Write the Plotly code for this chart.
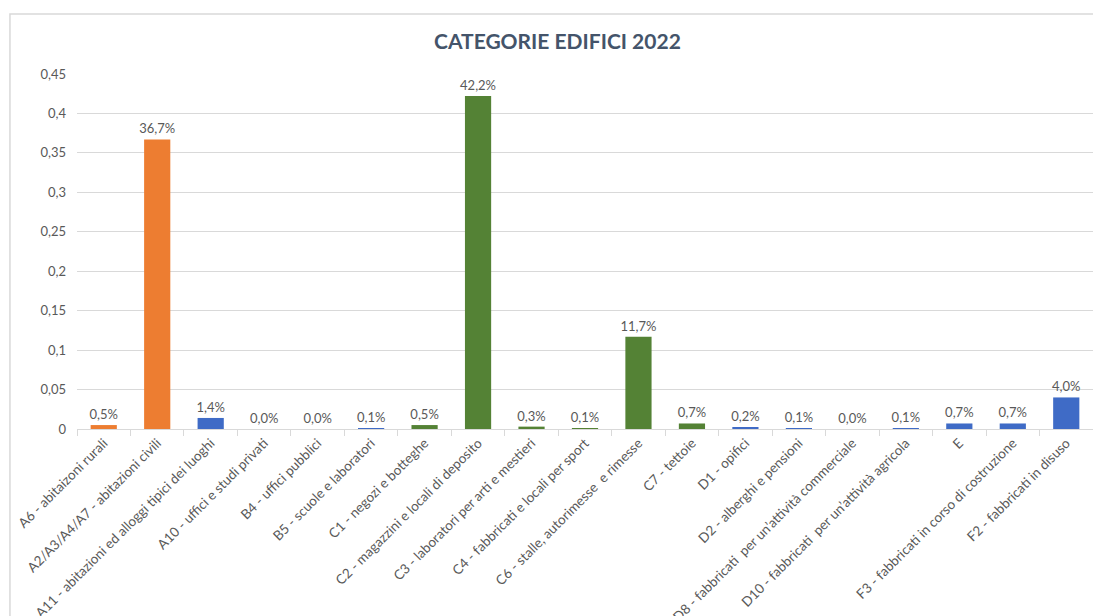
import plotly.graph_objects as go

# Building categories (cadastral classes) and their share of the total
categories = [
    "A6 - abitaizoni rurali",
    "A2/A3/A4/A7 - abitazioni civili",
    "A11 - abitazioni ed alloggi tipici dei luoghi",
    "A10 - uffici e studi privati",
    "B4 - uffici pubblici",
    "B5 - scuole e laboratori",
    "C1 - negozi e botteghe",
    "C2 - magazzini e locali di deposito",
    "C3 - laboratori per arti e mestieri",
    "C4 - fabbricati e locali per sport",
    "C6 - stalle, autorimesse  e rimesse",
    "C7 - tettoie",
    "D1 - opifici",
    "D2 - alberghi e pensioni",
    "D8 - fabbricati  per un\u2019attività commerciale",
    "D10 - fabbricati  per un\u2019attività agricola",
    "E",
    "F3 - fabbricati in corso di costruzione",
    "F2 - fabbricati in disuso",
]
shares = [0.005, 0.367, 0.014, 0.000, 0.000, 0.001, 0.005, 0.422, 0.003, 0.001,
          0.117, 0.007, 0.002, 0.001, 0.000, 0.001, 0.007, 0.007, 0.040]
groups = ["res", "res", "oth", "oth", "oth", "oth", "com", "com", "com", "com",
          "com", "com", "oth", "oth", "oth", "oth", "oth", "oth", "oth"]

palette = {"res": "#ED7D31", "com": "#548235", "oth": "#3F6BC6"}
bar_colors = [palette[g] for g in groups]

font_family = "Lato, 'Open Sans', sans-serif"
text_grey = "#595959"
grid_grey = "#D9D9D9"

fig = go.Figure(
    go.Bar(
        x=categories,
        y=shares,
        marker=dict(color=bar_colors, line=dict(width=0)),
        texttemplate="%{y:.1%}",
        textposition="outside",
        constraintext="none",
        textfont=dict(family=font_family, size=13, color=text_grey),
        cliponaxis=False,
        hoverinfo="x+y",
    )
)

# Outer chart frame: only its left and top edges fall inside the canvas
fig.add_shape(
    type="path", xref="paper", yref="paper",
    path="M -0.066,-1 L -0.066,1.169 L 1.05,1.169",
    line=dict(color=grid_grey, width=1.5),
    layer="below",
)

fig.update_layout(
    width=1093,
    height=616,
    margin=dict(l=77, r=0, t=74, b=187, autoexpand=False),
    paper_bgcolor="white",
    plot_bgcolor="white",
    separators=",.",
    bargap=0.51,
    showlegend=False,
    font=dict(family=font_family, size=13, color=text_grey),
    title=dict(
        text="<b>CATEGORIE EDIFICI 2022</b>",
        font=dict(family=font_family, size=21, color="#44546A"),
        x=0.51, xref="container", xanchor="center",
        y=1 - 42 / 616, yref="container", yanchor="middle",
    ),
    xaxis=dict(
        automargin=False,
        tickangle=-45,
        ticks="outside",
        tickson="boundaries",
        ticklen=6,
        tickcolor=grid_grey,
        showline=True,
        linecolor=grid_grey,
        linewidth=1,
        showgrid=False,
        tickfont=dict(family=font_family, size=13.5, color=text_grey),
    ),
    yaxis=dict(
        automargin=False,
        range=[0, 0.45],
        dtick=0.05,
        tick0=0,
        showgrid=True,
        gridcolor=grid_grey,
        gridwidth=1,
        zeroline=False,
        showline=False,
        ticks="",
        ticklabelstandoff=10,
        tickfont=dict(family=font_family, size=13, color=text_grey),
    ),
)

fig.write_html("out.html")
